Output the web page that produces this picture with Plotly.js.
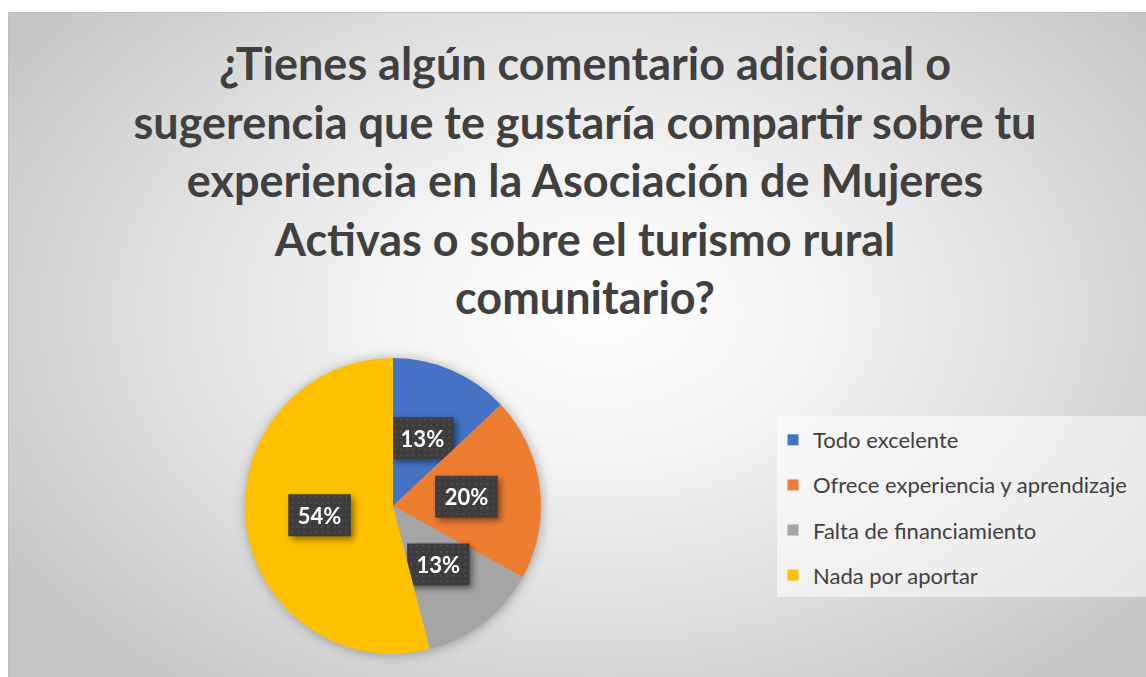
<!DOCTYPE html>
<html>
<head>
<meta charset="utf-8">
<script src="https://cdn.plot.ly/plotly-3.0.1.min.js"></script>
<style>
  html, body { margin: 0; padding: 0; background: #ffffff; width: 1146px; height: 677px; overflow: hidden; }
  #bg { position: absolute; left: 8px; top: 12px; width: 1138px; height: 665px;
        border-top: 1px solid #bfbfbf; border-left: 1px solid #bfbfbf; box-sizing: border-box;
        background: radial-gradient(ellipse 62% 72% at 52% 45%, #ffffff 0%, #f4f4f4 30%, #dedede 65%, #c6c6c6 100%); }
  #chart { position: absolute; left: 0; top: 0; width: 1146px; height: 677px; }
</style>
</head>
<body>
<div id="bg"></div>
<div id="chart"></div>
<script>
// ---- data ----
const categories = ["Todo excelente", "Ofrece experiencia y aprendizaje", "Falta de financiamiento", "Nada por aportar"];
const percentages = [13, 20, 13, 54];
const sliceColors = ["#4472C4", "#ED7D31", "#A5A5A5", "#FFC000"];
const titleLines = [
  "¿Tienes algún comentario adicional o",
  "sugerencia que te gustaría compartir sobre tu",
  "experiencia en la Asociación de Mujeres",
  "Activas o sobre el turismo rural",
  "comunitario?"
];

const W = 1146, H = 677;
const FONT = "Lato, 'Open Sans', sans-serif";
const TEXT_DARK = "#404040";

const pieTrace = {
  type: "pie",
  labels: categories,
  values: percentages,
  sort: false,
  direction: "clockwise",
  rotation: 0,
  marker: { colors: sliceColors, line: { width: 0 } },
  textinfo: "percent",
  texttemplate: "%{percent:.0%}",
  textposition: "inside",
  insidetextorientation: "horizontal",
  insidetextfont: { family: FONT, size: 22, color: "#ffffff", weight: "bold" },
  showlegend: false,
  hoverinfo: "label+percent",
  domain: { x: [245 / W, 541 / W], y: [(H - 654) / H, (H - 358) / H] }
};

const legendTraces = categories.map((c, i) => ({
  type: "scatter",
  mode: "markers",
  x: [null], y: [null],
  name: c,
  legendgroup: "g" + i,
  marker: { symbol: "square", size: 11, color: sliceColors[i] },
  hoverinfo: "skip"
}));

const layout = {
  width: W, height: H,
  margin: { l: 0, r: 0, t: 0, b: 0 },
  paper_bgcolor: "rgba(0,0,0,0)",
  plot_bgcolor: "rgba(0,0,0,0)",
  xaxis: { visible: false, range: [0, 1] },
  yaxis: { visible: false, range: [0, 1] },
  title: {
    text: titleLines.join("<br>"),
    font: { family: FONT, size: 45, color: TEXT_DARK, weight: "bold" },
    x: 585 / W, xanchor: "center", xref: "container",
    y: 1 - 80 / H, yanchor: "top", yref: "container"
  },
  showlegend: true,
  legend: {
    x: 773 / W, xanchor: "left",
    y: 1 - 419 / H, yanchor: "top",
    bgcolor: "rgba(0,0,0,0)",
    font: { family: FONT, size: 22, color: TEXT_DARK },
    tracegroupgap: 13.5,
    traceorder: "grouped",
    itemclick: false, itemdoubleclick: false
  },
  shapes: [{
    type: "rect", xref: "paper", yref: "paper", layer: "below",
    x0: 777 / W, x1: 1, y0: 1 - 597 / H, y1: 1 - 416 / H,
    fillcolor: "rgba(255,255,255,0.55)", line: { width: 0 }
  }]
};

Plotly.newPlot("chart", [pieTrace].concat(legendTraces), layout, { displayModeBar: false, staticPlot: true }).then(gd => {
  const svg = gd.querySelector(".main-svg");
  const NS = "http://www.w3.org/2000/svg";
  const defs = svg.querySelector("defs");
  const pat = document.createElementNS(NS, "pattern");
  pat.setAttribute("id", "dotpat"); pat.setAttribute("width", "6"); pat.setAttribute("height", "6");
  pat.setAttribute("patternUnits", "userSpaceOnUse");
  pat.innerHTML = '<rect width="6" height="6" fill="#3d3d3d"/><rect x="2" y="2" width="1.6" height="1.6" fill="#555555"/>';
  defs.appendChild(pat);
  const pieG = gd.querySelector("g.pielayer");
  if (pieG) pieG.style.filter = "drop-shadow(1px 1px 6px rgba(0,0,0,0.3))";

  // place each percent label at half the radius along its slice's mid-angle (Excel "center" labels)
  const cd = gd.calcdata[0];
  const cd0 = cd[0];
  gd.querySelectorAll("g.slice").forEach((sliceG, i) => {
    const t = sliceG.querySelector("g.slicetext text");
    if (!t) return;
    const m = cd[i].pxmid;
    const len = Math.hypot(m[0], m[1]) || 1;
    const tx = cd0.cx + 0.5 * cd0.r * m[0] / len;
    const ty = cd0.cy + 0.5 * cd0.r * m[1] / len;
    const bb = t.getBBox();
    const lcx = bb.x + bb.width / 2, lcy = bb.y + bb.height / 2;
    const tr = "translate(" + (tx - lcx) + "," + (ty - lcy) + ")";
    t.setAttribute("transform", tr);
    const r = document.createElementNS(NS, "rect");
    const px = 9.5, py = 8.5;
    r.setAttribute("x", bb.x - px); r.setAttribute("y", bb.y - py + 1);
    r.setAttribute("width", bb.width + 2 * px); r.setAttribute("height", bb.height + 2 * py - 2);
    r.setAttribute("fill", "url(#dotpat)");
    r.setAttribute("transform", tr);
    r.style.filter = "drop-shadow(3px 3px 3px rgba(0,0,0,0.45))";
    t.parentNode.insertBefore(r, t);
  });
});
</script>
</body>
</html>
